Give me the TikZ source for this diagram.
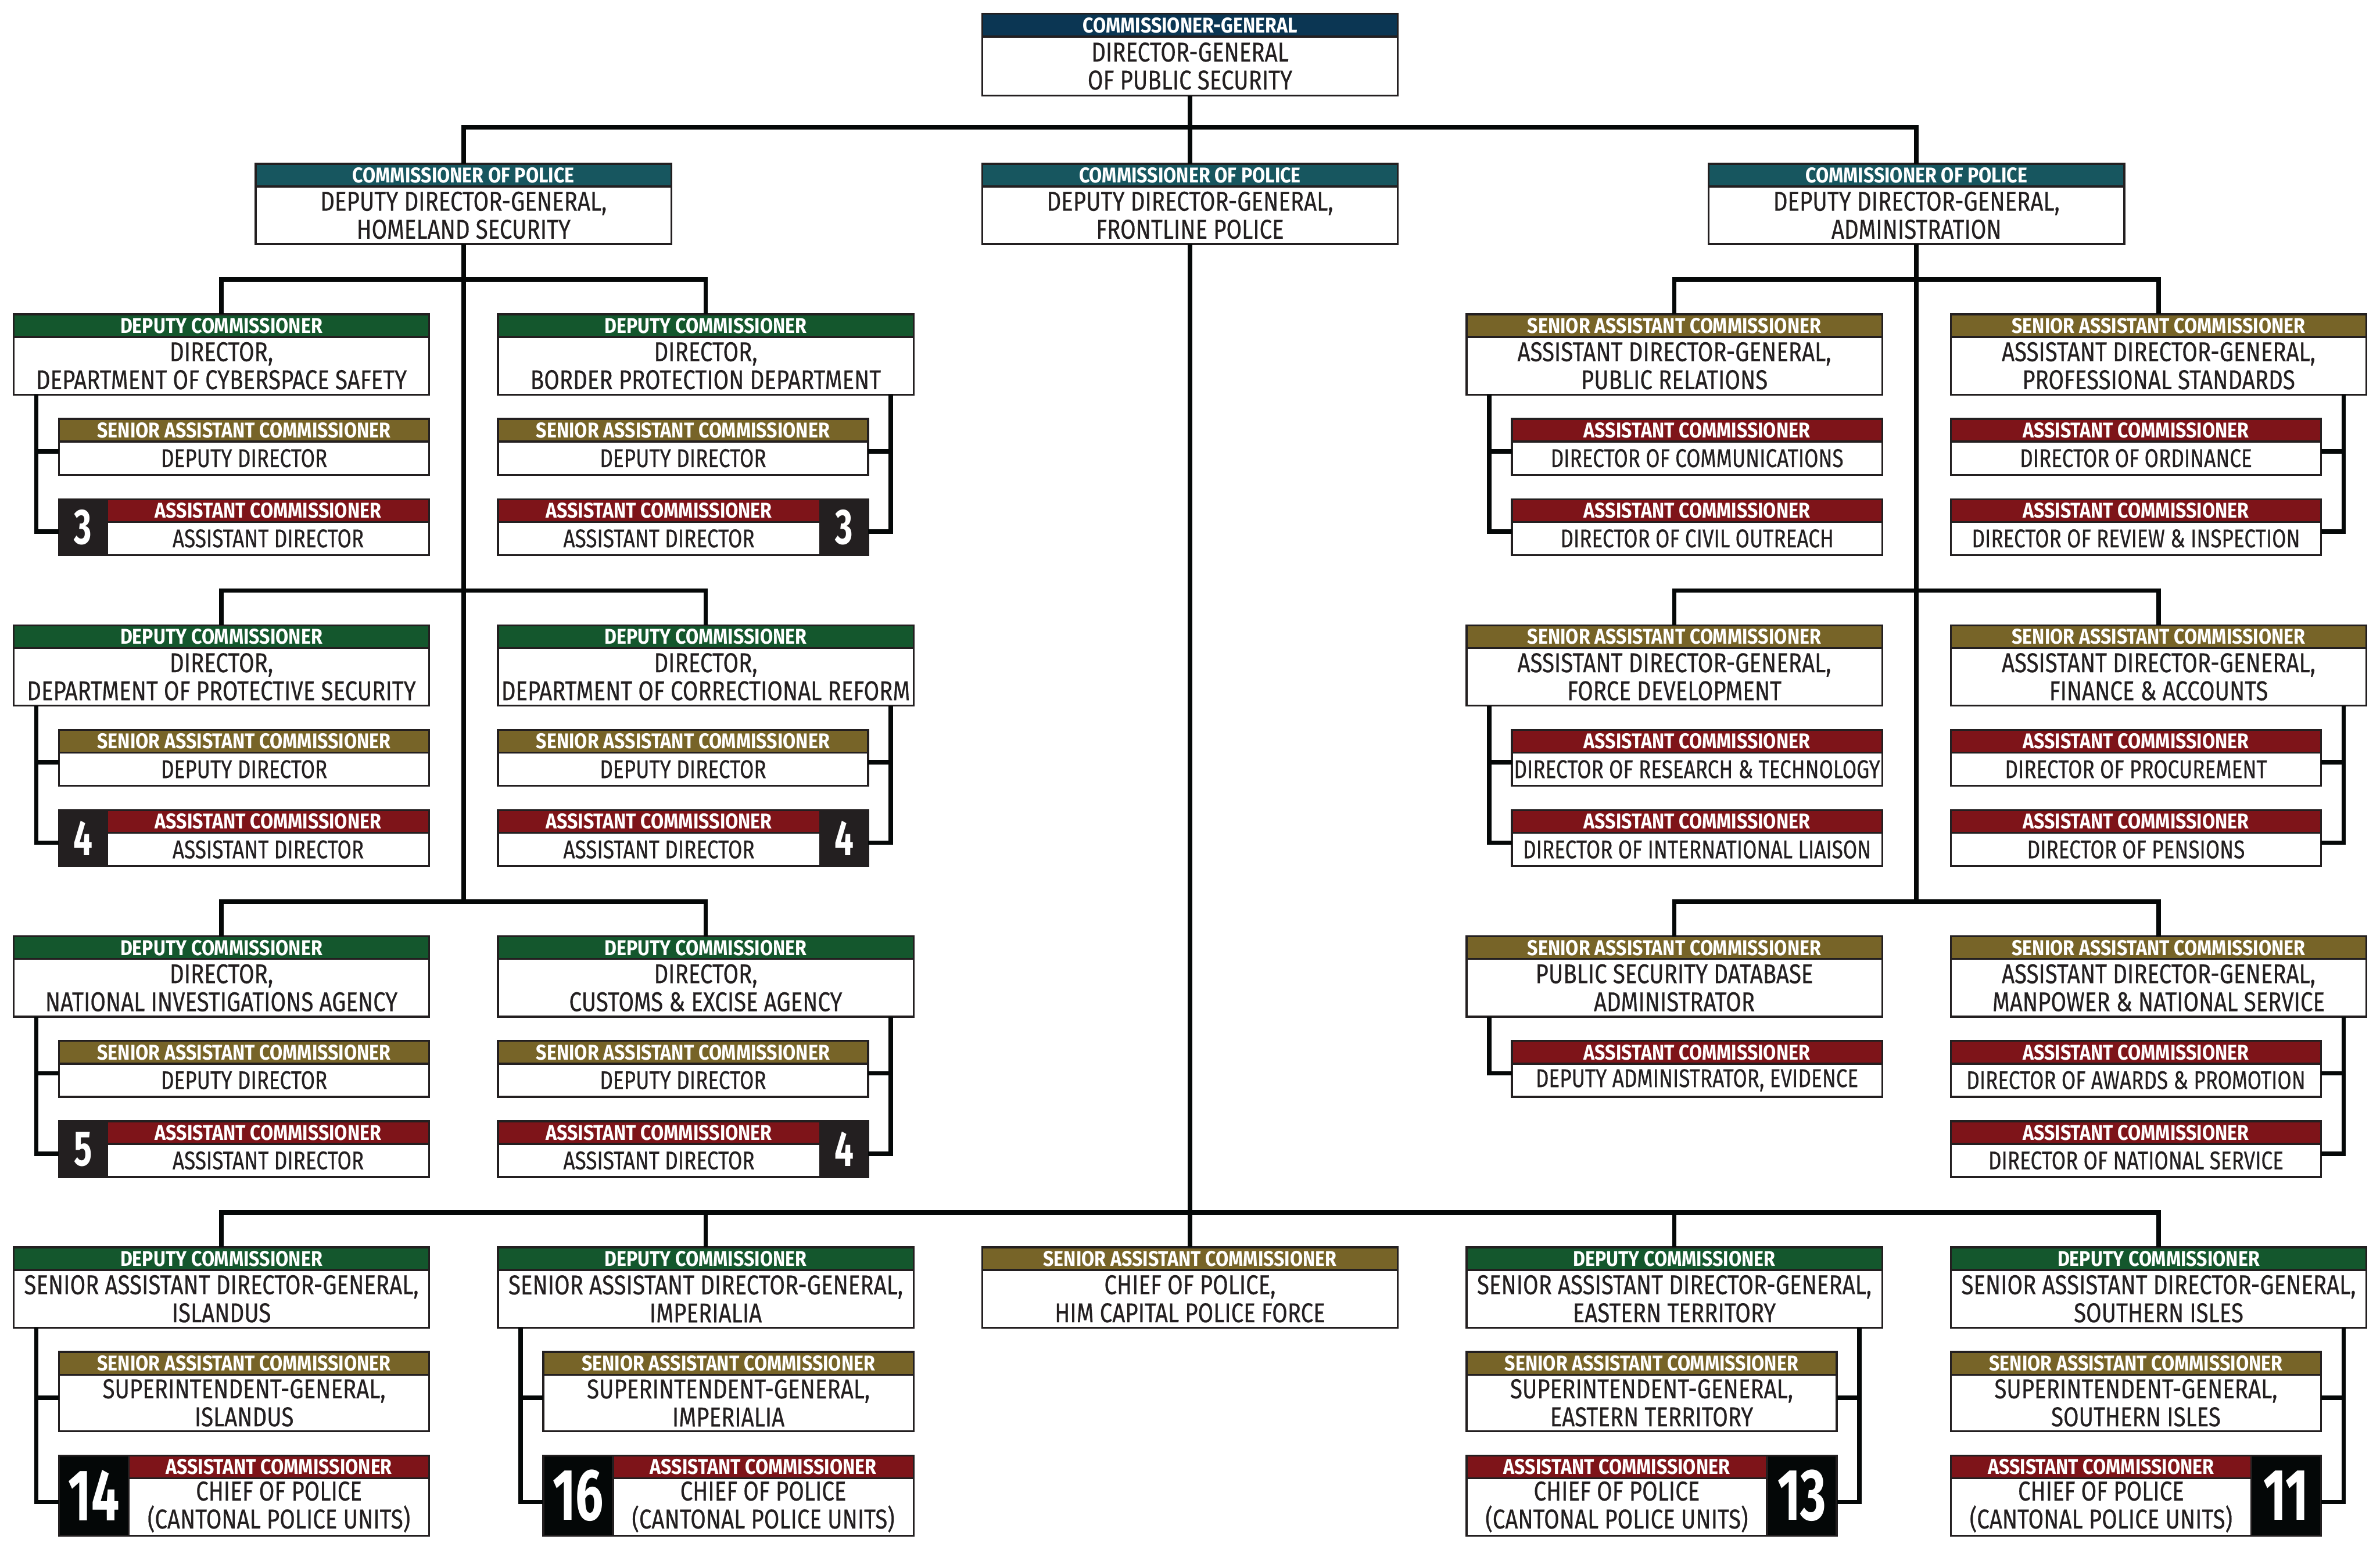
\documentclass[tikz,border=0pt]{standalone}
\usepackage{fontspec}
\setmainfont{Fira Sans}
\newfontfamily\bodyf{Fira Sans}[FakeStretch=0.82, FakeBold=0.4]
\newfontfamily\subf{Fira Sans}[FakeStretch=0.795, FakeBold=0.4]
\newfontfamily\hdrf{Fira Sans}[FakeStretch=0.873]
\newfontfamily\numf{Fira Sans}[FakeStretch=0.68]
\newcommand\smbody{\subf\fontsize{13.2pt}{13.6pt}\selectfont}
\usetikzlibrary{calc}
\definecolor{cNavy}{HTML}{0B3653}
\definecolor{cTeal}{HTML}{17565F}
\definecolor{cGreen}{HTML}{14572D}
\definecolor{cOlive}{HTML}{776428}
\definecolor{cMaroon}{HTML}{7E1419}
\definecolor{cBord}{HTML}{231F20}
\definecolor{cTxt}{HTML}{231F20}
\definecolor{cNumA}{HTML}{231F20}
\definecolor{cNumB}{HTML}{040707}
\definecolor{cLink}{HTML}{050808}
\tikzset{
  hdr/.style={draw=cBord, line width=1pt, inner sep=0pt, outer sep=0pt, minimum height=0.41cm, text=white,
    font=\hdrf\bfseries\fontsize{11pt}{12pt}\selectfont},
  bod/.style={draw=cBord, fill=white, line width=1pt, inner sep=0pt, outer sep=0pt, text=cTxt, align=center,
    font=\bodyf\fontsize{14pt}{14.4pt}\selectfont},
  numsq/.style={draw=cBord, line width=1pt, inner sep=0pt, outer sep=0pt, text=white},
  nsA/.style={fill=cNumA, font=\numf\bfseries\fontsize{25.6pt}{26pt}\selectfont},
  nsB/.style={fill=cNumB, font=\numf\bfseries\fontsize{37.5pt}{38pt}\selectfont},
  conn/.style={draw=cLink, line width=2.3pt, line join=miter},
}
% name, left x, top y, width, body height, colour, header, body
\newcommand\orgbox[8]{%
  \node[hdr, fill=#6, minimum width={(#4)*1cm}, anchor=north west] (#1h) at (#2,#3) {#7};
  \node[bod, minimum width={(#4)*1cm}, minimum height={(#5)*1cm}, anchor=north west] (#1) at (#1h.south west) {#8};
}
% name, left x, top y, body height, square width, square style, number, body
\newcommand\numL[8]{%
  \node[numsq, #6, minimum width={(#5)*1cm}, minimum height={(0.41+#4)*1cm}, anchor=north west] (#1q) at (#2,#3) {#7};
  \orgbox{#1}{#2+#5}{#3}{6.69-#5}{#4}{cMaroon}{ASSISTANT COMMISSIONER}{#8}
}
\newcommand\numR[8]{%
  \orgbox{#1}{#2}{#3}{6.69-#5}{#4}{cMaroon}{ASSISTANT COMMISSIONER}{#8}
  \node[numsq, #6, minimum width={(#5)*1cm}, minimum height={(0.41+#4)*1cm}, anchor=north west] (#1q) at (#2+6.69-#5,#3) {#7};
}
% connector: parent, target top node, target bottom node
\newcommand\conL[3]{\draw[conn] ($(#1.south west)+(0.41,0)$) |- ($(#2.north west)!0.58!(#3.south west)$);}
\newcommand\conR[3]{\draw[conn] ($(#1.south east)+(-0.41,0)$) |- ($(#2.north east)!0.58!(#3.south east)$);}
\begin{document}
\begin{tikzpicture}[y=-1cm]
\useasboundingbox[fill=white] (0,0) rectangle (43,28);
% ---------- top levels
\orgbox{top}{17.745}{0.25}{7.51}{1.07}{cNavy}{COMMISSIONER-GENERAL}{DIRECTOR-GENERAL\\OF PUBLIC SECURITY}
\orgbox{hs}{4.62}{2.96}{7.51}{1.04}{cTeal}{COMMISSIONER OF POLICE}{DEPUTY DIRECTOR-GENERAL,\\HOMELAND SECURITY}
\orgbox{fp}{17.745}{2.96}{7.51}{1.04}{cTeal}{COMMISSIONER OF POLICE}{DEPUTY DIRECTOR-GENERAL,\\FRONTLINE POLICE}
\orgbox{ad}{30.87}{2.96}{7.51}{1.04}{cTeal}{COMMISSIONER OF POLICE}{DEPUTY DIRECTOR-GENERAL,\\ADMINISTRATION}
% ---------- row 1
\orgbox{d11}{0.245}{5.68}{7.51}{1.04}{cGreen}{DEPUTY COMMISSIONER}{DIRECTOR,\\DEPARTMENT OF CYBERSPACE SAFETY}
\orgbox{s11}{1.065}{7.57}{6.69}{0.60}{cOlive}{SENIOR ASSISTANT COMMISSIONER}{\smbody DEPUTY DIRECTOR}
\numL{a11}{1.065}{9.02}{0.60}{0.87}{nsA}{3}{\smbody ASSISTANT DIRECTOR}
\orgbox{d12}{8.995}{5.68}{7.51}{1.04}{cGreen}{DEPUTY COMMISSIONER}{DIRECTOR,\\BORDER PROTECTION DEPARTMENT}
\orgbox{s12}{8.995}{7.57}{6.69}{0.60}{cOlive}{SENIOR ASSISTANT COMMISSIONER}{\smbody DEPUTY DIRECTOR}
\numR{a12}{8.995}{9.02}{0.60}{0.87}{nsA}{3}{\smbody ASSISTANT DIRECTOR}
\orgbox{d14}{26.495}{5.68}{7.51}{1.04}{cOlive}{SENIOR ASSISTANT COMMISSIONER}{ASSISTANT DIRECTOR-GENERAL,\\PUBLIC RELATIONS}
\orgbox{s14}{27.315}{7.57}{6.69}{0.60}{cMaroon}{ASSISTANT COMMISSIONER}{\smbody DIRECTOR OF COMMUNICATIONS}
\orgbox{a14}{27.315}{9.02}{6.69}{0.60}{cMaroon}{ASSISTANT COMMISSIONER}{\smbody DIRECTOR OF CIVIL OUTREACH}
\orgbox{d15}{35.245}{5.68}{7.51}{1.04}{cOlive}{SENIOR ASSISTANT COMMISSIONER}{ASSISTANT DIRECTOR-GENERAL,\\PROFESSIONAL STANDARDS}
\orgbox{s15}{35.245}{7.57}{6.69}{0.60}{cMaroon}{ASSISTANT COMMISSIONER}{\smbody DIRECTOR OF ORDINANCE}
\orgbox{a15}{35.245}{9.02}{6.69}{0.60}{cMaroon}{ASSISTANT COMMISSIONER}{\smbody DIRECTOR OF REVIEW \& INSPECTION}
% ---------- row 2
\orgbox{d21}{0.245}{11.30}{7.51}{1.04}{cGreen}{DEPUTY COMMISSIONER}{DIRECTOR,\\DEPARTMENT OF PROTECTIVE SECURITY}
\orgbox{s21}{1.065}{13.19}{6.69}{0.60}{cOlive}{SENIOR ASSISTANT COMMISSIONER}{\smbody DEPUTY DIRECTOR}
\numL{a21}{1.065}{14.64}{0.60}{0.87}{nsA}{4}{\smbody ASSISTANT DIRECTOR}
\orgbox{d22}{8.995}{11.30}{7.51}{1.04}{cGreen}{DEPUTY COMMISSIONER}{DIRECTOR,\\DEPARTMENT OF CORRECTIONAL REFORM}
\orgbox{s22}{8.995}{13.19}{6.69}{0.60}{cOlive}{SENIOR ASSISTANT COMMISSIONER}{\smbody DEPUTY DIRECTOR}
\numR{a22}{8.995}{14.64}{0.60}{0.87}{nsA}{4}{\smbody ASSISTANT DIRECTOR}
\orgbox{d24}{26.495}{11.30}{7.51}{1.04}{cOlive}{SENIOR ASSISTANT COMMISSIONER}{ASSISTANT DIRECTOR-GENERAL,\\FORCE DEVELOPMENT}
\orgbox{s24}{27.315}{13.19}{6.69}{0.60}{cMaroon}{ASSISTANT COMMISSIONER}{\smbody DIRECTOR OF RESEARCH \& TECHNOLOGY}
\orgbox{a24}{27.315}{14.64}{6.69}{0.60}{cMaroon}{ASSISTANT COMMISSIONER}{\smbody DIRECTOR OF INTERNATIONAL LIAISON}
\orgbox{d25}{35.245}{11.30}{7.51}{1.04}{cOlive}{SENIOR ASSISTANT COMMISSIONER}{ASSISTANT DIRECTOR-GENERAL,\\FINANCE \& ACCOUNTS}
\orgbox{s25}{35.245}{13.19}{6.69}{0.60}{cMaroon}{ASSISTANT COMMISSIONER}{\smbody DIRECTOR OF PROCUREMENT}
\orgbox{a25}{35.245}{14.64}{6.69}{0.60}{cMaroon}{ASSISTANT COMMISSIONER}{\smbody DIRECTOR OF PENSIONS}
% ---------- row 3
\orgbox{d31}{0.245}{16.92}{7.51}{1.04}{cGreen}{DEPUTY COMMISSIONER}{DIRECTOR,\\NATIONAL INVESTIGATIONS AGENCY}
\orgbox{s31}{1.065}{18.81}{6.69}{0.60}{cOlive}{SENIOR ASSISTANT COMMISSIONER}{\smbody DEPUTY DIRECTOR}
\numL{a31}{1.065}{20.26}{0.60}{0.87}{nsA}{5}{\smbody ASSISTANT DIRECTOR}
\orgbox{d32}{8.995}{16.92}{7.51}{1.04}{cGreen}{DEPUTY COMMISSIONER}{DIRECTOR,\\CUSTOMS \& EXCISE AGENCY}
\orgbox{s32}{8.995}{18.81}{6.69}{0.60}{cOlive}{SENIOR ASSISTANT COMMISSIONER}{\smbody DEPUTY DIRECTOR}
\numR{a32}{8.995}{20.26}{0.60}{0.87}{nsA}{4}{\smbody ASSISTANT DIRECTOR}
\orgbox{d34}{26.495}{16.92}{7.51}{1.04}{cOlive}{SENIOR ASSISTANT COMMISSIONER}{PUBLIC SECURITY DATABASE\\ADMINISTRATOR}
\orgbox{s34}{27.315}{18.81}{6.69}{0.60}{cMaroon}{ASSISTANT COMMISSIONER}{\smbody DEPUTY ADMINISTRATOR, EVIDENCE}
\orgbox{d35}{35.245}{16.92}{7.51}{1.04}{cOlive}{SENIOR ASSISTANT COMMISSIONER}{ASSISTANT DIRECTOR-GENERAL,\\MANPOWER \& NATIONAL SERVICE}
\orgbox{s35}{35.245}{18.81}{6.69}{0.60}{cMaroon}{ASSISTANT COMMISSIONER}{\smbody DIRECTOR OF AWARDS \& PROMOTION}
\orgbox{a35}{35.245}{20.26}{6.69}{0.60}{cMaroon}{ASSISTANT COMMISSIONER}{\smbody DIRECTOR OF NATIONAL SERVICE}
% ---------- row 4
\orgbox{d41}{0.245}{22.54}{7.51}{1.04}{cGreen}{DEPUTY COMMISSIONER}{SENIOR ASSISTANT DIRECTOR-GENERAL,\\ISLANDUS}
\orgbox{s41}{1.065}{24.43}{6.69}{1.02}{cOlive}{SENIOR ASSISTANT COMMISSIONER}{SUPERINTENDENT-GENERAL,\\ISLANDUS}
\numL{a41}{1.065}{26.30}{1.04}{1.26}{nsB}{14}{CHIEF OF POLICE\\(CANTONAL POLICE UNITS)}
\orgbox{d42}{8.995}{22.54}{7.51}{1.04}{cGreen}{DEPUTY COMMISSIONER}{SENIOR ASSISTANT DIRECTOR-GENERAL,\\IMPERIALIA}
\orgbox{s42}{9.815}{24.43}{6.69}{1.02}{cOlive}{SENIOR ASSISTANT COMMISSIONER}{SUPERINTENDENT-GENERAL,\\IMPERIALIA}
\numL{a42}{9.815}{26.30}{1.04}{1.26}{nsB}{16}{CHIEF OF POLICE\\(CANTONAL POLICE UNITS)}
\orgbox{d43}{17.745}{22.54}{7.51}{1.04}{cOlive}{SENIOR ASSISTANT COMMISSIONER}{CHIEF OF POLICE,\\HIM CAPITAL POLICE FORCE}
\orgbox{d44}{26.495}{22.54}{7.51}{1.04}{cGreen}{DEPUTY COMMISSIONER}{SENIOR ASSISTANT DIRECTOR-GENERAL,\\EASTERN TERRITORY}
\orgbox{s44}{26.495}{24.43}{6.69}{1.02}{cOlive}{SENIOR ASSISTANT COMMISSIONER}{SUPERINTENDENT-GENERAL,\\EASTERN TERRITORY}
\numR{a44}{26.495}{26.30}{1.04}{1.26}{nsB}{13}{CHIEF OF POLICE\\(CANTONAL POLICE UNITS)}
\orgbox{d45}{35.245}{22.54}{7.51}{1.04}{cGreen}{DEPUTY COMMISSIONER}{SENIOR ASSISTANT DIRECTOR-GENERAL,\\SOUTHERN ISLES}
\orgbox{s45}{35.245}{24.43}{6.69}{1.02}{cOlive}{SENIOR ASSISTANT COMMISSIONER}{SUPERINTENDENT-GENERAL,\\SOUTHERN ISLES}
\numR{a45}{35.245}{26.30}{1.04}{1.26}{nsB}{11}{CHIEF OF POLICE\\(CANTONAL POLICE UNITS)}
% ---------- bus coordinates
\coordinate (b0) at (0,2.30);
\coordinate (b1) at (0,5.05);
\coordinate (b2) at (0,10.67);
\coordinate (b3) at (0,16.29);
\coordinate (b4) at (0,21.91);
% ---------- connectors, upper levels
\draw[conn] (top.south) -- (fph.north);
\draw[conn] (hsh.north) -- (hsh.north |- b0) -- (adh.north |- b0) -- (adh.north);
\draw[conn] (hs.south) -- (hs.south |- b3);
\draw[conn] (ad.south) -- (ad.south |- b3);
\draw[conn] (fp.south) -- (fp.south |- b4);
\foreach \r/\b in {1/b1,2/b2,3/b3}{
  \draw[conn] (d\r1h.north) -- (d\r1h.north |- \b) -- (d\r2h.north |- \b) -- (d\r2h.north);
  \draw[conn] (d\r4h.north) -- (d\r4h.north |- \b) -- (d\r5h.north |- \b) -- (d\r5h.north);
}
\draw[conn] (d41h.north) -- (d41h.north |- b4) -- (d45h.north |- b4) -- (d45h.north);
\draw[conn] (d42h.north) -- (d42h.north |- b4);
\draw[conn] (d43h.north) -- (d43h.north |- b4);
\draw[conn] (d44h.north) -- (d44h.north |- b4);
% ---------- connectors to subordinates
\conL{d11}{s11h}{s11} \conL{d11}{a11q}{a11q}
\conR{d12}{s12h}{s12} \conR{d12}{a12q}{a12q}
\conL{d14}{s14h}{s14} \conL{d14}{a14h}{a14}
\conR{d15}{s15h}{s15} \conR{d15}{a15h}{a15}
\conL{d21}{s21h}{s21} \conL{d21}{a21q}{a21q}
\conR{d22}{s22h}{s22} \conR{d22}{a22q}{a22q}
\conL{d24}{s24h}{s24} \conL{d24}{a24h}{a24}
\conR{d25}{s25h}{s25} \conR{d25}{a25h}{a25}
\conL{d31}{s31h}{s31} \conL{d31}{a31q}{a31q}
\conR{d32}{s32h}{s32} \conR{d32}{a32q}{a32q}
\conL{d34}{s34h}{s34}
\conR{d35}{s35h}{s35} \conR{d35}{a35h}{a35}
\conL{d41}{s41h}{s41} \conL{d41}{a41q}{a41q}
\conL{d42}{s42h}{s42} \conL{d42}{a42q}{a42q}
\conR{d44}{s44h}{s44} \conR{d44}{a44q}{a44q}
\conR{d45}{s45h}{s45} \conR{d45}{a45q}{a45q}
\end{tikzpicture}
\end{document}
